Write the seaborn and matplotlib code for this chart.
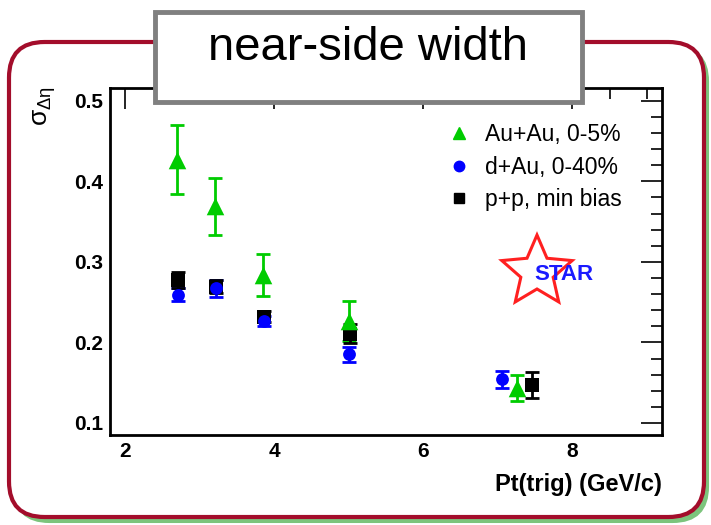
import numpy as np
import pandas as pd
import matplotlib
matplotlib.use("Agg")
import matplotlib.pyplot as plt
from matplotlib.patches import FancyBboxPatch, Rectangle, Polygon
from matplotlib.lines import Line2D
from matplotlib.ticker import MultipleLocator
import seaborn as sns

# Near-side correlation width vs trigger pT
systems = ["Au+Au, 0-5%", "d+Au, 0-40%", "p+p, min bias"]

auau_pt = [2.70, 3.21, 3.85, 5.00, 7.25]
auau_w = [0.427, 0.369, 0.284, 0.227, 0.143]
auau_err = [0.043, 0.035, 0.026, 0.025, 0.016]

dau_pt = [2.71, 3.22, 3.86, 5.00, 7.06]
dau_w = [0.259, 0.267, 0.227, 0.185, 0.154]
dau_err = [0.008, 0.010, 0.006, 0.009, 0.011]

pp_pt = [2.71, 3.22, 3.86, 5.02, 7.46]
pp_w = [0.277, 0.269, 0.232, 0.211, 0.147]
pp_err = [0.010, 0.008, 0.007, 0.012, 0.016]

x_ticks = [2, 4, 6, 8]
y_ticks = [0.1, 0.2, 0.3, 0.4, 0.5]
y_tick_labels = ["0.1", "0.2", "0.3", "0.4", "0.5"]

colors = {systems[0]: "#00cc00", systems[1]: "#0000ff", systems[2]: "#000000"}
markers = {systems[0]: "^", systems[1]: "o", systems[2]: "s"}
sizes = {systems[0]: 160, systems[1]: 85, systems[2]: 95}

df = pd.concat([
    pd.DataFrame({"pt": auau_pt, "w": auau_w, "err": auau_err, "sys": systems[0]}),
    pd.DataFrame({"pt": dau_pt, "w": dau_w, "err": dau_err, "sys": systems[1]}),
    pd.DataFrame({"pt": pp_pt, "w": pp_w, "err": pp_err, "sys": systems[2]}),
], ignore_index=True)

sns.set_theme(style="white")
plt.rcParams["font.family"] = ["Liberation Sans", "DejaVu Sans"]
plt.rcParams["mathtext.fontset"] = "custom"
plt.rcParams["mathtext.rm"] = "Liberation Sans"
plt.rcParams["mathtext.it"] = "Liberation Sans"
plt.rcParams["text.color"] = "black"
plt.rcParams["axes.labelcolor"] = "black"

W, H = 711, 525
fig = plt.figure(figsize=(W / 100, H / 100), dpi=100)
fig.patch.set_facecolor("white")

def fx(px):
    return px / W

def fy(py):
    return 1 - py / H

# slide frame: green shadow + dark red rounded border
shadow = FancyBboxPatch((fx(14), fy(522)), fx(694), (522 - 46) / H,
                        boxstyle="round,pad=0,rounding_size=0.05",
                        transform=fig.transFigure, facecolor="#7cc47c",
                        edgecolor="#7cc47c", lw=1.5, zorder=-3,
                        mutation_aspect=W / H)
fig.add_artist(shadow)
frame = FancyBboxPatch((fx(9), fy(517)), fx(695), (517 - 42) / H,
                       boxstyle="round,pad=0,rounding_size=0.05",
                       transform=fig.transFigure, facecolor="white",
                       edgecolor="#a30d2b", lw=3, zorder=-2,
                       mutation_aspect=W / H)
fig.add_artist(frame)

ax = fig.add_axes([fx(110), fy(435), fx(662 - 110), (435 - 88) / H])
ax.set_facecolor("white")

for s in systems:
    sub = df[df["sys"] == s]
    ax.errorbar(sub["pt"], sub["w"], yerr=sub["err"], fmt="none",
                ecolor=colors[s], elinewidth=2, capsize=5, capthick=2, zorder=2)

for s in [systems[2], systems[1], systems[0]]:
    sub = df[df["sys"] == s]
    sns.scatterplot(data=sub, x="pt", y="w", color=colors[s], marker=markers[s],
                    s=sizes[s], linewidth=0, ax=ax, zorder=3, legend=False)

ax.set_xlim(1.8, 9.2)
ax.set_ylim(0.085, 0.516)
ax.set_xticks(x_ticks)
ax.set_yticks(y_ticks)
ax.set_yticklabels(y_tick_labels)
ax.xaxis.set_minor_locator(MultipleLocator(0.5))
ax.yaxis.set_minor_locator(MultipleLocator(0.02))
ax.tick_params(which="both", direction="in", top=True, right=True,
               color="black", labelcolor="black", width=1.2)
ax.tick_params(which="major", length=15, labelsize=15, pad=5)
ax.tick_params(which="minor", length=8)
for lab in ax.get_xticklabels() + ax.get_yticklabels():
    lab.set_fontweight("bold")
for sp in ax.spines.values():
    sp.set_color("black")
    sp.set_linewidth(2)

ax.set_xlabel("Pt(trig) (GeV/c)", fontsize=17, fontweight="bold", loc="right",
              labelpad=9)
ax.set_ylabel("")
fig.text(fx(45), fy(106), r"$\sigma_{\Delta\eta}$", rotation=90, fontsize=19,
         ha="center", va="center")

handles = [Line2D([], [], ls="none", marker=markers[s], color=colors[s],
                  markersize=9 if s == systems[0] else 7.5) for s in systems]
leg = ax.legend(handles, systems, loc="upper left",
                bbox_to_anchor=((436 - 110) / (662 - 110), (435 - 114) / (435 - 88)),
                frameon=False, fontsize=16.5, handletextpad=0.55, labelspacing=0.42,
                handlelength=1.2, borderaxespad=0)
for t in leg.get_texts():
    t.set_color("black")

# STAR logo: red star outline with blue lettering
cx, cy, R, r = 537, 272, 37, 17
ang = np.pi / 2 + np.arange(10) * np.pi / 5
rad = np.where(np.arange(10) % 2 == 0, R, r)
pts = np.column_stack([fx(cx + rad * np.cos(ang)), fy(cy - rad * np.sin(ang))])
fig.add_artist(Polygon(pts, closed=True, fill=False, edgecolor="#ff2020",
                       lw=2.2, transform=fig.transFigure, zorder=4))
fig.text(fx(564), fy(275), "STAR", color="#1a1aff", fontsize=16,
         fontweight="bold", ha="center", va="center", zorder=5)

# title box over the top of the plot
fig.add_artist(Rectangle((fx(155), fy(102)), fx(582 - 155), (102 - 12) / H,
                         transform=fig.transFigure, facecolor="white",
                         edgecolor="#808080", lw=3.5, zorder=6))
fig.text(fx(368), fy(48), "near-side width", fontsize=34, ha="center",
         va="center", color="black", zorder=7)

fig.savefig("out.png", dpi=100)
